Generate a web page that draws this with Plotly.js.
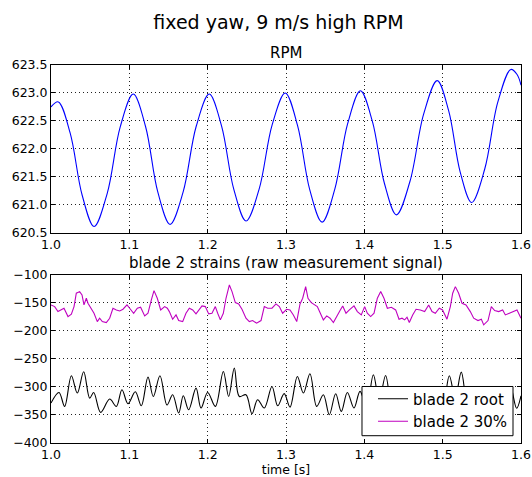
<!DOCTYPE html>
<html>
<head>
<meta charset="utf-8">
<script src="https://cdn.plot.ly/plotly-3.0.1.min.js"></script>
<style>html,body{margin:0;padding:0;background:#fff;}#chart{width:532px;height:477px;}</style>
</head>
<body>
<div id="chart"></div>
<script>
// ---- RPM (top panel) ----
const rpmTime = [1.0000,1.0093,1.0245,1.0398,1.0550,1.0717,1.0883,1.1050,1.1207,1.1363,1.1520,1.1687,1.1853,1.2020,
  1.2177,1.2333,1.2490,1.2657,1.2823,1.2990,1.3147,1.3303,1.3460,1.3623,1.3787,1.3950,1.4103,1.4257,1.4410,
  1.4583,1.4757,1.4930,1.5077,1.5223,1.5370,1.5537,1.5703,1.5870,1.5950,1.6000];
const rpmValue = [622.75,622.84,622.28,621.17,620.61,621.20,622.39,622.98,622.40,621.23,620.65,621.23,622.40,622.98,
  622.41,621.28,620.71,621.28,622.43,623.00,622.42,621.27,620.69,621.28,622.45,623.04,622.49,621.38,620.82,
  621.42,622.62,623.22,622.68,621.59,621.04,621.64,622.83,623.42,623.33,623.14];

// ---- blade 2 root strain (bottom panel) ----
const rootTime = [1.0000,1.0102,1.0174,1.0260,1.0336,1.0417,1.0494,1.0545,1.0634,1.0749,1.0834,1.0906,1.0983,1.1076,
  1.1153,1.1238,1.1306,1.1391,1.1481,1.1553,1.1630,1.1689,1.1757,1.1851,1.1915,1.2000,1.2098,1.2200,1.2268,
  1.2340,1.2404,1.2489,1.2566,1.2638,1.2723,1.2821,1.2894,1.2977,1.3051,1.3145,1.3222,1.3306,1.3392,1.3477,
  1.3553,1.3634,1.3706,1.3783,1.3868,1.3945,1.4030,1.4115,1.4190,1.4272,1.4353,1.4435,1.4516,1.4597,1.4679,
  1.4760,1.4841,1.4922,1.5004,1.5085,1.5160,1.5238,1.5317,1.5395,1.5474,1.5552,1.5631,1.5709,1.5787,1.5865,
  1.5944,1.6000];
const rootValue = [-328.8,-309.9,-334.8,-280.2,-311.0,-273.1,-320.0,-309.9,-345.4,-321.7,-334.8,-305.1,-330.0,-308.7,
  -333.6,-282.6,-317.0,-280.2,-332.4,-314.0,-346.6,-315.8,-340.7,-302.2,-337.7,-309.9,-334.8,-272.5,-317.0,
  -266.6,-317.0,-314.0,-347.8,-322.9,-337.7,-299.2,-333.6,-312.0,-336.0,-281.4,-311.0,-276.6,-334.8,-314.0,
  -349.6,-312.2,-343.7,-309.9,-337.7,-308.0,-336.0,-278.4,-324.0,-279.6,-336.0,-310.0,-340.0,-306.0,-334.0,
  -312.0,-338.0,-308.0,-332.0,-280.2,-320.0,-273.7,-330.0,-306.0,-342.0,-310.0,-336.0,-305.0,-334.0,-300.0,
  -338.0,-316.0];

// ---- blade 2 30% strain (bottom panel) ----
const midTime = [1.0000,1.0047,1.0089,1.0132,1.0166,1.0217,1.0260,1.0294,1.0323,1.0366,1.0396,1.0421,1.0451,1.0472,
  1.0506,1.0549,1.0591,1.0621,1.0655,1.0706,1.0749,1.0791,1.0834,1.0877,1.0919,1.0970,1.1004,1.1055,1.1102,
  1.1144,1.1196,1.1238,1.1281,1.1315,1.1357,1.1400,1.1451,1.1485,1.1511,1.1553,1.1596,1.1630,1.1681,1.1723,
  1.1766,1.1809,1.1851,1.1894,1.1928,1.1970,1.2013,1.2055,1.2098,1.2128,1.2162,1.2200,1.2234,1.2277,1.2311,
  1.2353,1.2396,1.2438,1.2489,1.2532,1.2574,1.2625,1.2681,1.2723,1.2766,1.2821,1.2872,1.2915,1.2957,1.3008,
  1.3051,1.3094,1.3137,1.3179,1.3213,1.3251,1.3281,1.3323,1.3366,1.3400,1.3434,1.3477,1.3520,1.3562,1.3605,
  1.3647,1.3690,1.3724,1.3766,1.3809,1.3868,1.3911,1.3961,1.4004,1.4038,1.4081,1.4124,1.4166,1.4209,1.4251,
  1.4294,1.4345,1.4400,1.4443,1.4481,1.4515,1.4545,1.4574,1.4617,1.4660,1.4715,1.4770,1.4821,1.4864,1.4906,
  1.4957,1.4999,1.5055,1.5098,1.5128,1.5162,1.5204,1.5247,1.5298,1.5353,1.5396,1.5451,1.5494,1.5524,1.5579,
  1.5621,1.5664,1.5715,1.5766,1.5800,1.5851,1.5906,1.5949,1.6000];
const midValue = [-153.9,-156.9,-165.8,-161.6,-159.8,-174.7,-170.5,-156.9,-133.1,-130.2,-136.1,-153.9,-142.0,-151.0,
  -159.8,-168.7,-183.6,-177.6,-183.6,-185.3,-177.6,-159.8,-162.8,-164.6,-161.6,-153.9,-159.8,-168.7,-159.8,
  -158.0,-173.5,-168.7,-145.0,-128.4,-142.0,-162.8,-156.9,-159.8,-165.8,-179.4,-171.7,-181.8,-183.6,-168.7,
  -159.8,-162.8,-169.9,-162.8,-155.7,-156.9,-169.9,-168.7,-156.9,-168.7,-180.6,-168.7,-142.0,-118.3,-130.2,
  -149.8,-152.1,-161.6,-177.6,-183.6,-181.8,-186.5,-181.8,-156.9,-159.8,-159.8,-152.1,-156.9,-168.7,-161.6,
  -162.8,-171.7,-183.6,-152.1,-142.0,-121.3,-142.0,-149.8,-153.9,-156.9,-167.5,-180.6,-173.5,-177.6,-185.3,
  -173.5,-164.0,-155.7,-168.7,-162.8,-155.7,-165.8,-171.7,-156.9,-168.7,-174.7,-168.7,-142.0,-130.2,-142.0,
  -159.8,-158.0,-162.8,-179.4,-177.6,-180.6,-175.8,-185.3,-171.7,-161.6,-162.8,-165.8,-153.9,-165.8,-168.7,
  -159.8,-162.8,-179.4,-156.9,-133.1,-121.3,-133.1,-151.0,-153.9,-165.8,-177.6,-181.8,-179.4,-189.5,-181.8,
  -156.9,-164.0,-165.8,-162.8,-171.7,-168.7,-165.8,-162.8,-177.6];

const xTicks = [1.0,1.1,1.2,1.3,1.4,1.5,1.6];
const rpmTicks = [620.5,621.0,621.5,622.0,622.5,623.0,623.5];
const strainTicks = [-400,-350,-300,-250,-200,-150,-100];

const FONT = 'DejaVu Sans, sans-serif';

const traces = [
  {x: rpmTime, y: rpmValue, xaxis: 'x', yaxis: 'y', type: 'scatter', mode: 'lines',
   line: {color: '#0000ff', width: 1.1, shape: 'spline', smoothing: 1}, showlegend: false, name: 'RPM'},
  {x: rootTime, y: rootValue, xaxis: 'x2', yaxis: 'y2', type: 'scatter', mode: 'lines',
   line: {color: '#000000', width: 1.1, shape: 'spline', smoothing: 1}, name: 'blade 2 root'},
  {x: midTime, y: midValue, xaxis: 'x2', yaxis: 'y2', type: 'scatter', mode: 'lines',
   line: {color: '#bf00bf', width: 1.1}, name: 'blade 2 30%'}
];

function xAxis(anchor, extra) {
  return Object.assign({
    anchor: anchor, domain: [0, 1], range: [1.0, 1.6], tickvals: xTicks, tickformat: '.1f',
    showline: true, linecolor: '#000', linewidth: 1, mirror: 'allticks',
    ticks: 'inside', ticklen: 4, tickcolor: '#000', tickwidth: 1,
    showgrid: true, gridcolor: '#222', gridwidth: 1, griddash: '1px,3px',
    zeroline: false, tickfont: {family: FONT, size: 12.5, color: '#000'}, ticklabelstandoff: 0
  }, extra || {});
}
function yAxis(anchor, domain, range, ticks, fmt) {
  return {
    anchor: anchor, domain: domain, range: range, tickvals: ticks, tickformat: fmt,
    showline: true, linecolor: '#000', linewidth: 1, mirror: 'allticks',
    ticks: 'inside', ticklen: 4, tickcolor: '#000', tickwidth: 1,
    showgrid: true, gridcolor: '#222', gridwidth: 1, griddash: '1px,3px',
    zeroline: false, tickfont: {family: FONT, size: 12.5, color: '#000'}, ticklabelstandoff: 0
  };
}

const layout = {
  width: 532, height: 477,
  margin: {l: 51, r: 11, t: 64.7, b: 33.7, pad: 0},
  paper_bgcolor: '#fff', plot_bgcolor: '#fff',
  font: {family: FONT, color: '#000'},
  title: {text: 'fixed yaw, 9 m/s high RPM', font: {family: FONT, size: 19, color: '#000'},
          xref: 'container', x: 0.5235, xanchor: 'center', yref: 'container', y: 0.953, yanchor: 'middle'},
  xaxis: xAxis('y'),
  yaxis: yAxis('x', [0.5563, 1], [620.5, 623.5], rpmTicks, '.1f'),
  xaxis2: xAxis('y2', {title: {text: 'time [s]', font: {family: FONT, size: 12.5, color: '#000'}, standoff: 4}}),
  yaxis2: yAxis('x2', [0, 0.4453], [-400, -100], strainTicks, 'd'),
  showlegend: true,
  legend: {x: 0.983, xanchor: 'right', y: 0.160, yanchor: 'top', bgcolor: 'rgba(0,0,0,0)',
           borderwidth: 0, font: {family: FONT, size: 15, color: '#000'}},
  // legend frame (white box with black border) behind the legend entries
  shapes: [
    {type: 'rect', xref: 'paper', yref: 'paper', x0: 0.6617, x1: 0.983, y0: 0.0193, y1: 0.1495,
     fillcolor: '#fff', line: {color: '#000', width: 1}, layer: 'above'}
  ],
  annotations: [
    {text: 'RPM', xref: 'paper', yref: 'paper', x: 0.5, y: 1, xanchor: 'center', yanchor: 'bottom',
     yshift: 1, showarrow: false, font: {family: FONT, size: 15, color: '#000'}},
    {text: 'blade 2 strains (raw measurement signal)', xref: 'paper', yref: 'paper', x: 0.5, y: 0.4453,
     xanchor: 'center', yanchor: 'bottom', yshift: 1, showarrow: false, font: {family: FONT, size: 15, color: '#000'}}
  ]
};

Plotly.newPlot('chart', traces, layout, {displayModeBar: false, staticPlot: true});
</script>
</body>
</html>
